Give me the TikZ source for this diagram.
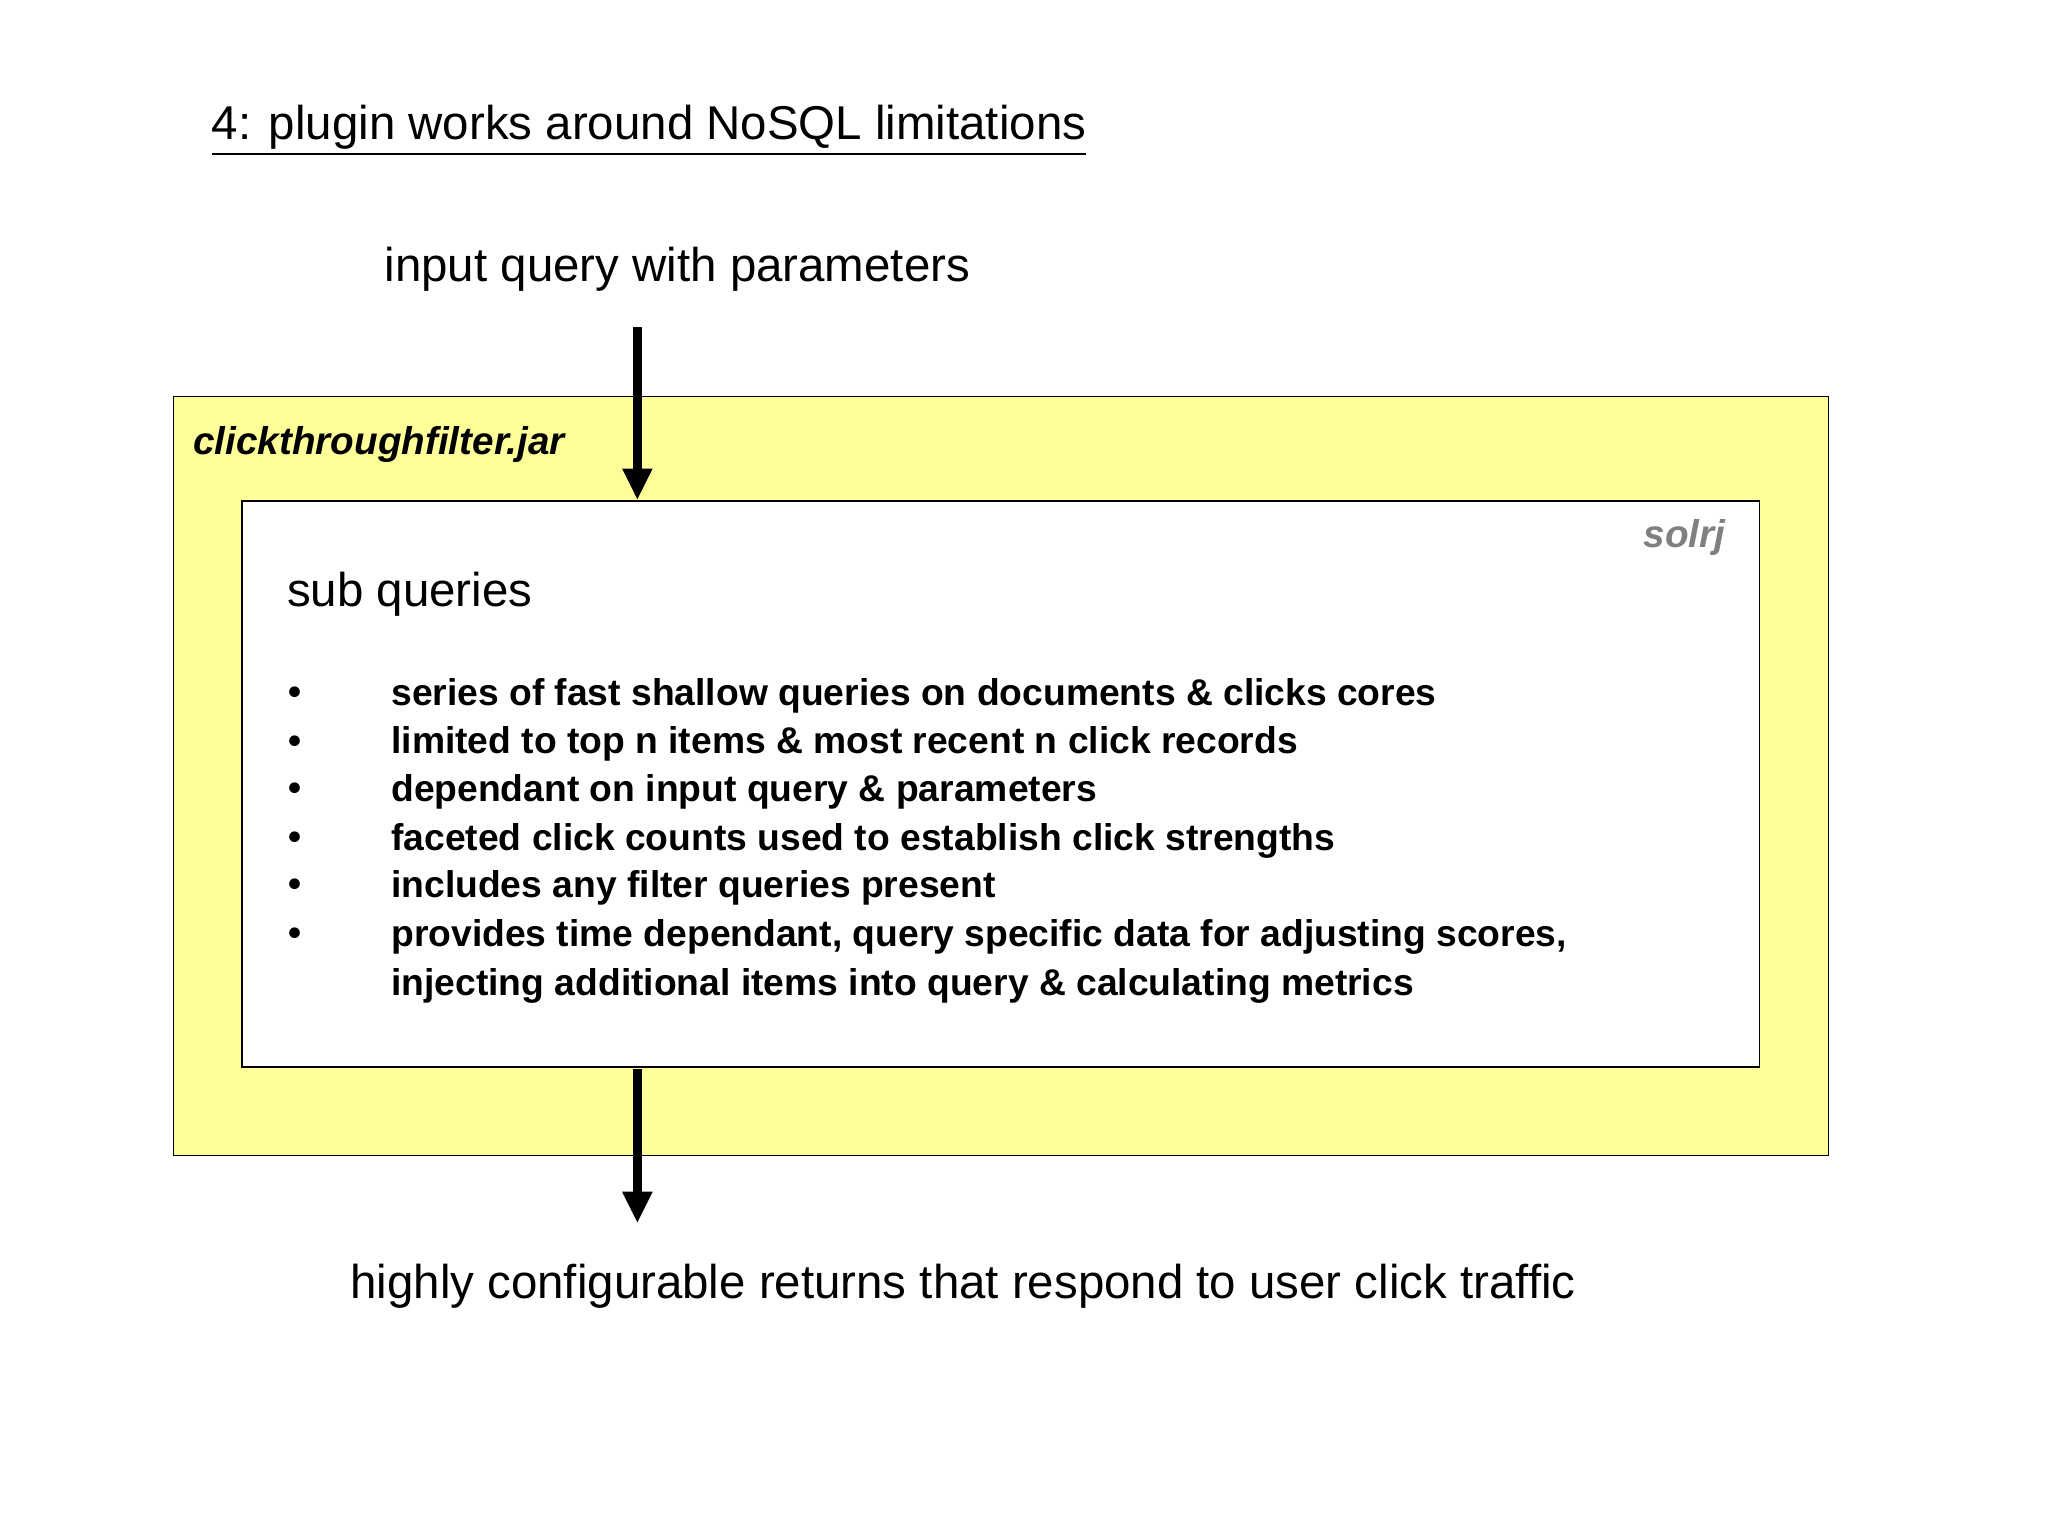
\documentclass[tikz,border=0pt]{standalone}
\usepackage{fontspec}
\setmainfont{Liberation Sans}
\usetikzlibrary{arrows.meta}
\begin{document}
\begin{tikzpicture}[x=0.013196cm,y=-0.013196cm,
  lbl/.style={anchor=west,inner sep=0pt},
  bul/.style={anchor=west,inner sep=0pt,font=\fontsize{10.6}{12}\selectfont\bfseries},
  arr/.style={line width=2.6pt,-{Triangle[length=9pt,width=8pt]}}]
\useasboundingbox (0,0) rectangle (1552,1164);
\node[draw,fill={rgb,255:red,255;green,255;blue,153},minimum width=1254*0.013196cm,minimum height=575*0.013196cm,anchor=north west,inner sep=0pt] (outer) at (131,300) {};
\node[draw,fill=white,minimum width=1150*0.013196cm,minimum height=429*0.013196cm,anchor=north west,inner sep=0pt] (inner) at (183,379) {};
\node[lbl,font=\fontsize{13.5}{16}\selectfont] (title) at (160,99) {\underline{4: plugin works around NoSQL limitations}};
\node[lbl,font=\fontsize{13.5}{16}\selectfont] (in) at (291,204) {input query with parameters};
\node[lbl,font=\fontsize{13.5}{16}\selectfont] (out) at (265,975) {highly configurable returns that respond to user click traffic};
\node[lbl,font=\fontsize{11}{13}\selectfont\bfseries\itshape] (jar) at (146,337) {clickthroughfilter.jar};
\node[anchor=east,inner sep=0pt,text=gray,font=\fontsize{11}{13}\selectfont\bfseries\itshape] (solrj) at (1308,407) {solrj};
\node[lbl,font=\fontsize{13.5}{16}\selectfont] (sub) at (217,450) {sub queries};
\foreach \y/\t in {527/series of fast shallow queries on documents \& clicks cores,
 564/limited to top n items \& most recent n click records,
 600/dependant on input query \& parameters,
 637/faceted click counts used to establish click strengths,
 673/includes any filter queries present,
 710/{provides time dependant, query specific data for adjusting scores,}}{
  \node[bul] at (218,\y) {•};
  \node[bul] at (296,\y) {\t};
}
\node[bul] (last) at (296,747) {injecting additional items into query \& calculating metrics};
\coordinate (a0) at (483,248);
\coordinate (a1) at (483,379);
\coordinate (b0) at (483,810);
\coordinate (b1) at (483,927);
\draw[arr] (a0) -- (a1);
\draw[arr] (b0) -- (b1);
\end{tikzpicture}
\end{document}
